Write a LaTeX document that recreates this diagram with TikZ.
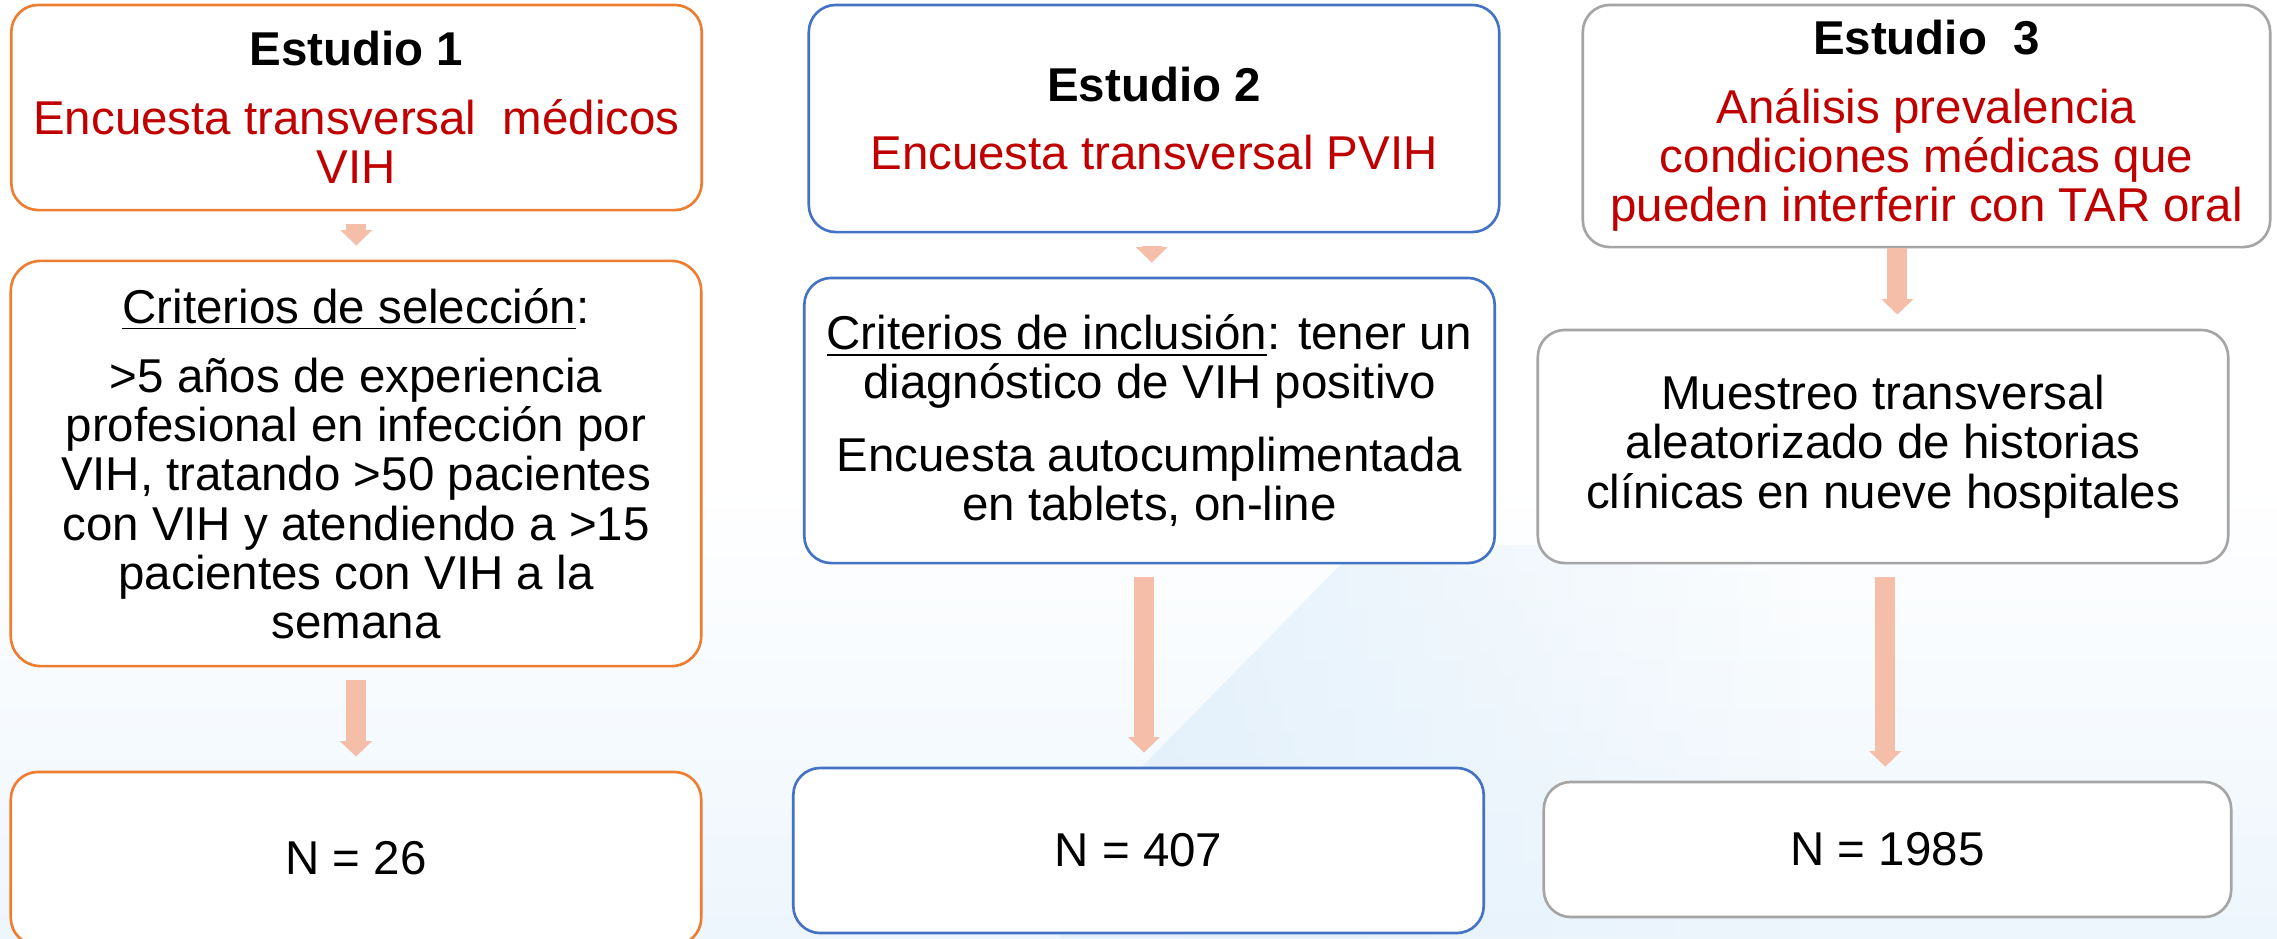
\documentclass[tikz,border=0pt]{standalone}
\usepackage{fontspec}
\setmainfont{Liberation Sans}
\usetikzlibrary{arrows.meta, calc, fadings}

\definecolor{boxorange}{HTML}{ED7D31}
\definecolor{boxblue}{HTML}{4472C4}
\definecolor{boxgrey}{HTML}{A5A5A5}
\definecolor{txtred}{HTML}{C00000}
\definecolor{arrowpink}{HTML}{F4BEA9}
\definecolor{bgblue}{HTML}{E2F0FB}

\begin{document}
\begin{tikzpicture}[x=0.01cm, y=-0.01cm, boxStyle/.style={rectangle, rounded corners=0.27cm, draw, line width=0.75pt, fill=white, inner sep=0pt, minimum width=6.9cm, align=center, font=\fontsize{13.5}{14}\selectfont}, arrowStyle/.style={draw=arrowpink, line width=0.2cm, -{Triangle[width=0.31cm,length=0.155cm]}, shorten <=0.13cm, shorten >=0.14cm}]
                    \useasboundingbox (0,0) rectangle (2277,938);
                    \clip (0,0) rectangle (2277,938);
                    \fill[white] (0,0) rectangle (2277,938);
                    \shade[top color=white, bottom color=bgblue!60] (0,480) rectangle (2277,938);
                    \fill[bgblue, path fading=east] (1360,545) -- (1060,850) -- (1060,938) -- (1800,938) -- (1800,545) -- cycle;

                    \node[boxStyle, draw=boxorange, minimum height=2.05cm] (estudio1) at (356.5, 107.5) {\textbf{Estudio 1}\\[0.19cm]\textcolor{txtred}{Encuesta transversal\ \ médicos}\\\textcolor{txtred}{VIH}};
                    \node[boxStyle, draw=boxorange, minimum height=4.05cm, rounded corners=0.3cm] (criterios1) at (356, 463.5) {\underline{Criterios de selección}:\\[0.2cm]>5 años de experiencia\\profesional en infección por\\VIH, tratando >50 pacientes\\con VIH y atendiendo a >15\\pacientes con VIH a la\\semana};
                    \node[boxStyle, draw=boxorange, minimum height=1.73cm] (n1) at (356, 858.5) {N = 26};

                    \node[boxStyle, draw=boxblue, minimum height=2.27cm] (estudio2) at (1154, 118.5) {\textbf{Estudio 2}\\[0.19cm]\textcolor{txtred}{Encuesta transversal PVIH}};
                    \node[boxStyle, draw=boxblue, minimum height=2.85cm] (criterios2) at (1149.5, 420.5) {\underline{Criterios de inclusión}: tener un\\diagnóstico de VIH positivo\\[0.23cm]Encuesta autocumplimentada\\en tablets, on-line};
                    \node[boxStyle, draw=boxblue, minimum height=1.65cm] (n2) at (1138.5, 850.5) {N = 407};

                    \node[boxStyle, draw=boxgrey, minimum height=2.42cm, minimum width=6.87cm] (estudio3) at (1926.5, 126) {\textbf{Estudio\ \ 3}\\[0.19cm]\textcolor{txtred}{Análisis prevalencia}\\\textcolor{txtred}{condiciones médicas que}\\\textcolor{txtred}{pueden interferir con TAR oral}};
                    \node[boxStyle, draw=boxgrey, minimum height=2.33cm] (metodo3) at (1883, 446.5) {Muestreo transversal\\aleatorizado de historias\\clínicas en nueve hospitales};
                    \node[boxStyle, draw=boxgrey, minimum height=1.35cm, minimum width=6.87cm] (n3) at (1887.5, 849.5) {N = 1985};

                    \coordinate (mid1a) at ($(estudio1.south)!0.5!(criterios1.north)$);
                    \coordinate (mid1b) at ($(criterios1.south)!0.5!(n1.north)$);
                    \coordinate (mid2a) at ($(estudio2.south)!0.5!(criterios2.north)$);
                    \coordinate (mid2b) at ($(criterios2.south)!0.5!(n2.north)$);
                    \coordinate (mid3a) at ($(estudio3.south)!0.67!(metodo3.north)$);
                    \coordinate (mid3b) at ($(metodo3.south)!0.5!(n3.north)$);

                    \draw[arrowStyle] (estudio1.south -| mid1a) -- (criterios1.north -| mid1a);
                    \draw[arrowStyle] (criterios1.south -| mid1b) -- (n1.north -| mid1b);
                    \draw[arrowStyle] (estudio2.south -| mid2a) -- (criterios2.north -| mid2a);
                    \draw[arrowStyle] (criterios2.south -| mid2b) -- (n2.north -| mid2b);
                    \draw[arrowStyle, shorten <=0pt] (estudio3.south -| mid3a) -- (metodo3.north -| mid3a);
                    \draw[arrowStyle] (metodo3.south -| mid3b) -- (n3.north -| mid3b);
                \end{tikzpicture}
\end{document}
